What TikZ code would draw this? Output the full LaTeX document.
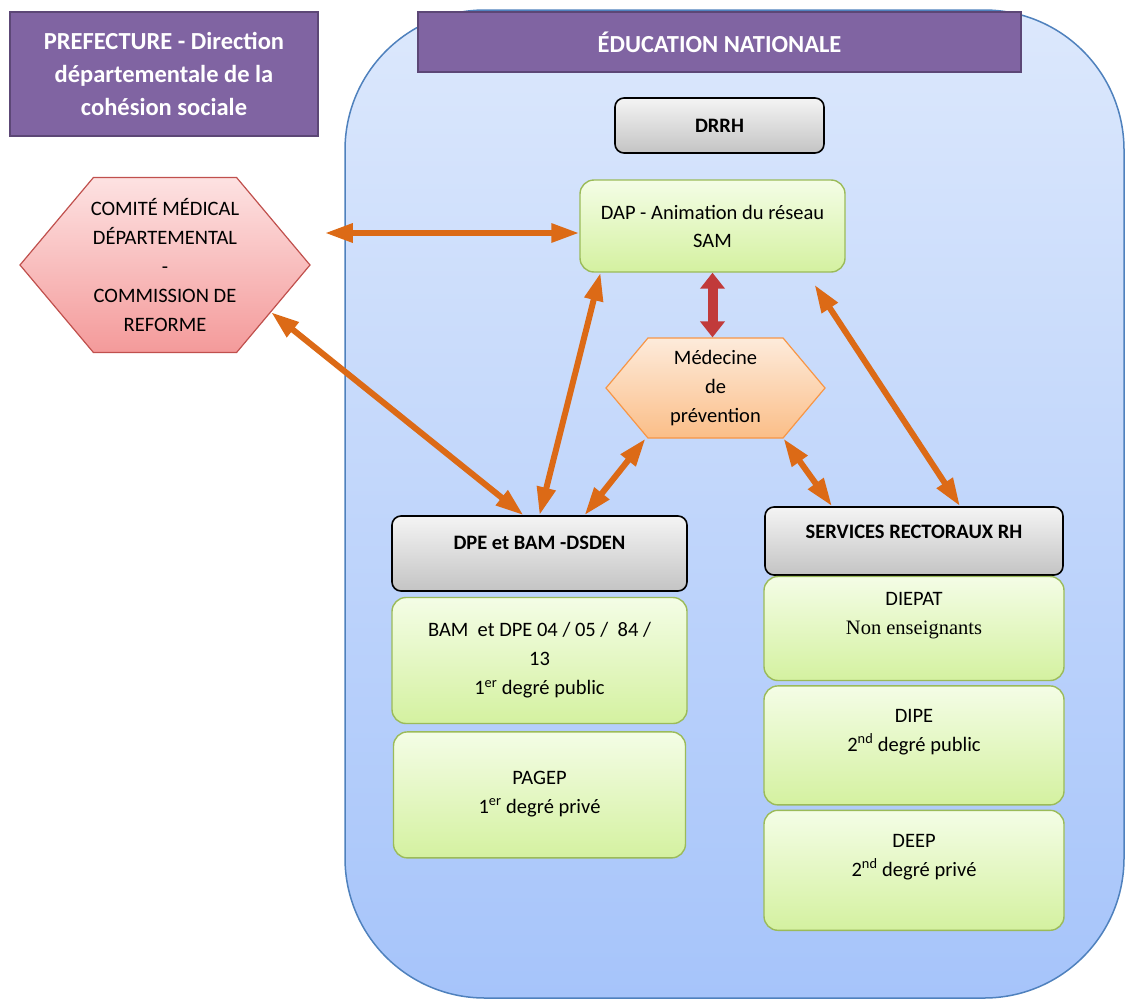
\documentclass[tikz,border=0pt]{standalone}
\usepackage{fontspec}
\setmainfont{Carlito}
\newfontfamily\serifnote{Liberation Serif}
\usetikzlibrary{shapes.symbols, arrows.meta, positioning}
\definecolor{purplefill}{HTML}{8064A2}
\definecolor{purpleline}{HTML}{5C4776}
\definecolor{regiontop}{HTML}{DCE8FC}
\definecolor{regionbot}{HTML}{A6C4FA}
\definecolor{regionline}{HTML}{4F81BD}
\definecolor{greytop}{HTML}{F4F4F4}
\definecolor{greybot}{HTML}{C4C4C4}
\definecolor{greentop}{HTML}{F4FDE6}
\definecolor{greenbot}{HTML}{D4F1A0}
\definecolor{greenline}{HTML}{9BBB59}
\definecolor{redtop}{HTML}{FDE2E2}
\definecolor{redbot}{HTML}{F49A9A}
\definecolor{redline}{HTML}{C0504D}
\definecolor{peachtop}{HTML}{FDEBDB}
\definecolor{peachbot}{HTML}{FBBE88}
\definecolor{peachline}{HTML}{F79646}
\definecolor{arrowline}{HTML}{DC6A16}
\definecolor{arrowred}{HTML}{C13A3A}

\begin{document}
\begin{tikzpicture}[
  x=1pt, y=-1pt,
  node distance=4pt,
  every node/.style={font=\fontsize{20.5}{29}\selectfont, align=center, inner sep=2pt},
  region/.style={draw=regionline, line width=1.5pt, rounded corners=140pt, top color=regiontop, bottom color=regionbot, minimum width=779pt, minimum height=988pt},
  titlebox/.style={draw=purpleline, line width=2.5pt, fill=purplefill, text=white, font=\fontsize{24.5}{33}\selectfont\bfseries},
  greybox/.style={draw=black, line width=1.6pt, rounded corners=9pt, top color=greytop, bottom color=greybot, font=\fontsize{20.5}{28}\selectfont\bfseries},
  greenbox/.style={draw=greenline, line width=1.4pt, rounded corners=14pt, top color=greentop, bottom color=greenbot},
  hexbox/.style={signal, signal to=west and east, signal from=nowhere, signal pointer angle=100, line width=1.2pt},
  link/.style={draw=arrowline, line width=6pt, {Triangle[length=28pt,width=18pt]}-{Triangle[length=28pt,width=18pt]}},
  redlink/.style={draw=arrowred, line width=10pt, {Triangle[length=16pt,width=24pt]}-{Triangle[length=16pt,width=24pt]}}
]
\useasboundingbox (0,0) rectangle (1126,1001);
\node[region] (edu) at (734.5,504) {};

\node[titlebox, minimum width=308pt, minimum height=124pt] (pref) at (164,74) {PREFECTURE - Direction\\départementale de la\\cohésion sociale};
\node[titlebox, minimum width=603pt, minimum height=60pt] (ednat) at (719.5,42) {ÉDUCATION NATIONALE};
\node[greybox, minimum width=209pt, minimum height=55pt] (drrh) at (719.5,125.5) {DRRH};
\node[greenbox, minimum width=265pt, minimum height=92pt, font=\fontsize{20.5}{28}\selectfont] (dap) at (712.5,226) {DAP - Animation du réseau\\SAM};
\node[hexbox, draw=redline, top color=redtop, bottom color=redbot, minimum width=290pt, minimum height=175pt, inner xsep=-3pt] (comite) at (165,265) {COMITÉ MÉDICAL\\DÉPARTEMENTAL\\-\\COMMISSION DE\\REFORME};
\node[hexbox, draw=peachline, top color=peachtop, bottom color=peachbot, minimum width=219pt, minimum height=100pt] (medecine) at (715.5,388) {Médecine\\de\\prévention};

\node[greybox, minimum width=295pt, minimum height=75pt, text depth=22pt] (dpe) at (539.5,553.5) {DPE et BAM -DSDEN};
\node[greenbox, below=5pt of dpe, minimum width=295pt, minimum height=126pt] (bam) {BAM~ et DPE 04 / 05 /~ 84 /\\13\\1\textsuperscript{er}\ degré public};
\node[greenbox, below=7pt of bam, minimum width=292pt, minimum height=126pt, text height=40pt] (pagep) {PAGEP\\1\textsuperscript{er}\ degré privé};

\node[greybox, minimum width=298pt, minimum height=68pt, text depth=18pt] (srh) at (914,541) {SERVICES RECTORAUX RH};
\node[greenbox, below=0pt of srh, minimum width=300pt, minimum height=104pt, text depth=30pt] (diepat) {DIEPAT\\{\serifnote Non enseignants}};
\node[greenbox, below=4pt of diepat, minimum width=300pt, minimum height=119pt, text depth=30pt] (dipe) {DIPE\\2\textsuperscript{nd}\ degré public};
\node[greenbox, below=4pt of dipe, minimum width=300pt, minimum height=120pt, text depth=30pt] (deep) {DEEP\\2\textsuperscript{nd}\ degré privé};

\draw[link] ([xshift=14pt,yshift=32pt]comite.east) -- ([yshift=-7pt]dap.west);
\draw[link] (comite.-24) -- ([xshift=-16pt]dpe.north);
\draw[link] (dpe.north) -- ([xshift=-112pt]dap.south);
\draw[link] ([xshift=45pt]dpe.north) -- ([xshift=-70pt]medecine.south);
\draw[link] ([xshift=68pt]medecine.south) -- ([xshift=-82pt]srh.north);
\draw[link] ([xshift=102pt,yshift=-12pt]dap.south) -- ([xshift=46pt]srh.north);
\draw[redlink] (dap.south) -- (dap.south |- medecine.north);
\end{tikzpicture}
\end{document}
